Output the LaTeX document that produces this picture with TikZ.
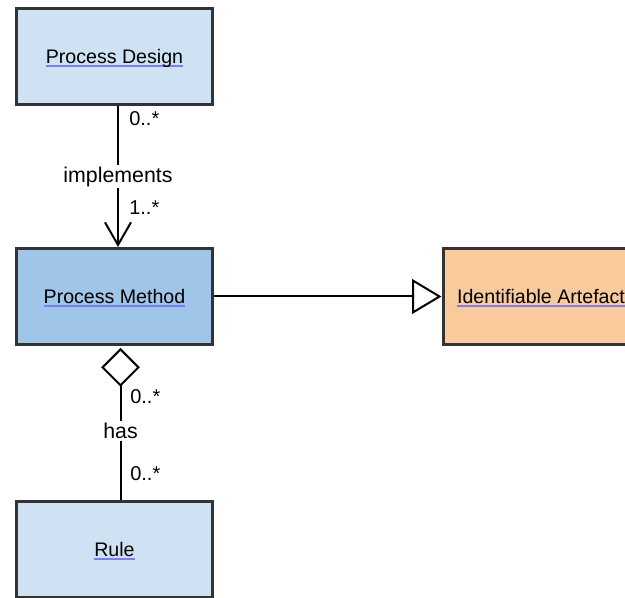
\documentclass[tikz,border=0pt]{standalone}
\usepackage{fontspec}
\setmainfont{Liberation Sans}
\usetikzlibrary{arrows.meta}
\definecolor{lightblue}{HTML}{CFE2F3}
\definecolor{midblue}{HTML}{9FC5E8}
\definecolor{peach}{HTML}{F9CB9C}
\definecolor{bordergray}{HTML}{333333}
\definecolor{ulcolor}{RGB}{125,125,240}
\newcommand\lnk[1]{\setbox0\hbox{#1}\rlap{\color{ulcolor}\rule[-2.3pt]{\wd0}{1pt}}\box0}
\tikzset{
  classbox/.style={draw=bordergray, line width=2.25pt, minimum width=147pt, minimum height=72pt,
    inner sep=0pt, font=\fontsize{14.7}{17}\selectfont, text height=10.5pt, text depth=0pt},
  conn/.style={line width=1.5pt, black},
  connlabel/.style={fill=white, inner sep=1.5pt, font=\fontsize{16}{18}\selectfont},
  mult/.style={inner sep=0pt, anchor=west, font=\fontsize{15}{17}\selectfont},
}
\begin{document}
\begin{tikzpicture}[x=0.75pt, y=-0.75pt]
\useasboundingbox (0,0) rectangle (625,598);
\clip (0,0) rectangle (625,598);
\node[classbox, fill=lightblue] (pd) at (114.5,56.5) {\lnk{Process Design}};
\node[classbox, fill=midblue] (pm) at (114.5,296.5) {\lnk{Process Method}};
\node[classbox, fill=peach] (ia) at (541,296.5) {\lnk{Identifiable Artefact}};
\node[classbox, fill=lightblue] (ru) at (114.5,549.5) {\lnk{Rule}};
\coordinate (impx) at (118,0);
\coordinate (hasx) at (120.5,0);
\draw[conn, -{Straight Barb[length=17pt,width=19.5pt,line width=1.5pt]}] (pd.south -| impx) -- node[connlabel, pos=0.5] (implab) {implements} (pm.north -| impx);
\draw[conn, -{Triangle[open,length=22pt,width=26pt,fill=white]}] (pm.east) -- (ia.west);
\draw[conn, {Diamond[open,length=29pt,width=29pt,fill=white]}-] ([yshift=-1.5pt]pm.south -| hasx) -- node[connlabel, pos=0.545] (haslab) {has} (ru.north -| hasx);
\node[mult] (m1) at (129,119) {0..*};
\node[mult] (m2) at (129,208) {1..*};
\node[mult] (m3) at (130,397) {0..*};
\node[mult] (m4) at (130,474) {0..*};
\end{tikzpicture}
\end{document}
